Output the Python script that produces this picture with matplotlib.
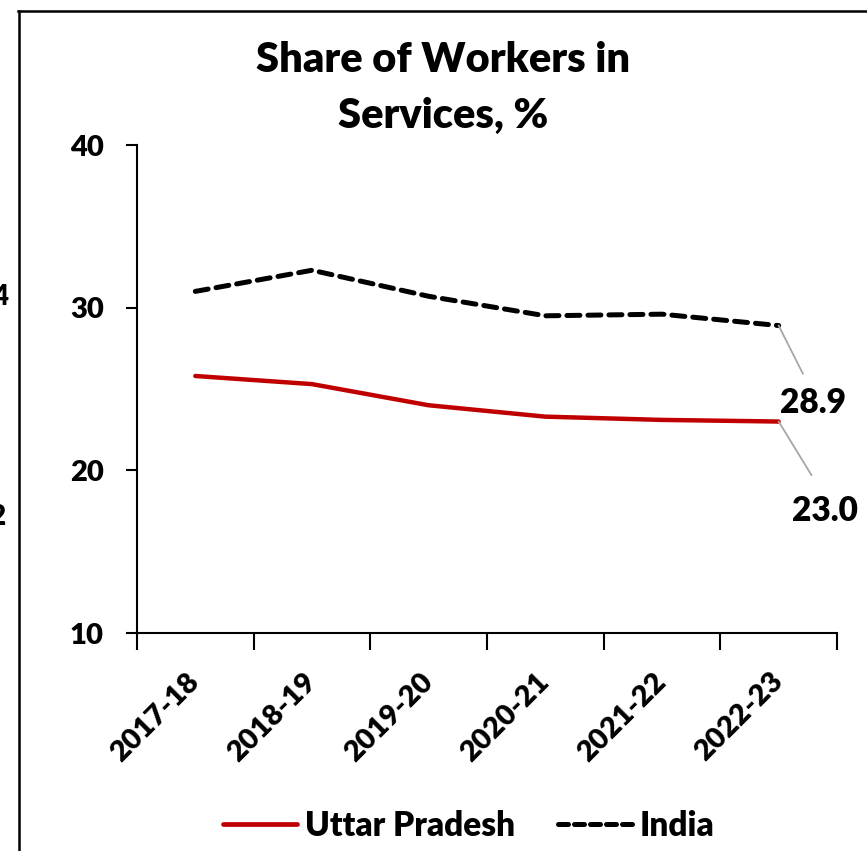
import matplotlib
matplotlib.use("Agg")
import matplotlib.pyplot as plt
from matplotlib.lines import Line2D

plt.rcParams['font.family'] = ['Lato', 'DejaVu Sans']
plt.rcParams['font.weight'] = 'heavy'
WT = 'heavy'

years = ["2017-18", "2018-19", "2019-20", "2020-21", "2021-22", "2022-23"]
up = [25.8, 25.3, 24.0, 23.3, 23.1, 23.0]
india = [31.0, 32.3, 30.7, 29.5, 29.6, 28.9]
title = "Share of Workers in\nServices, %"
yticks = [10, 20, 30, 40]

W, H = 867, 851
fig = plt.figure(figsize=(W / 100, H / 100), dpi=100)
ax = fig.add_axes([137 / W, 1 - 633 / H, (837 - 137) / W, (633 - 145) / H])

x = list(range(len(years)))
ax.plot(x, up, color='#C00000', lw=3.2, solid_capstyle='round', label='Uttar Pradesh')
ax.plot(x, india, color='black', lw=3.6, ls=(0, (2.6, 1.6)), dash_capstyle='round',
        label='India')

ax.set_xlim(-0.5, len(years) - 0.5)
ax.set_ylim(10, 40)
ax.set_yticks(yticks)
ax.set_yticklabels([str(v) for v in yticks], fontsize=21, fontweight=WT)
ax.tick_params(axis='y', length=8, width=1.5, pad=16, direction='out')

ax.set_xticks([i - 0.5 for i in range(len(years) + 1)])
ax.set_xticklabels([])
ax.tick_params(axis='x', which='major', length=12, width=1.5, direction='out')
ax.set_xticks(x, minor=True)
ax.set_xticklabels(years, minor=True, rotation=45, ha='right', va='center',
                   rotation_mode='anchor', fontsize=21, fontweight=WT)
ax.tick_params(axis='x', which='minor', length=0, pad=32)

for s in ['top', 'right']:
    ax.spines[s].set_visible(False)
for s in ['left', 'bottom']:
    ax.spines[s].set_linewidth(1.5)

fig.text(443 / W, 1 - 88 / H, title, ha='center', va='center', fontsize=30,
         fontweight=WT, linespacing=1.55)

# data labels for last points
ax.annotate(f"{india[-1]:.1f}", xy=(x[-1], india[-1]), xytext=(34, -77),
            textcoords='offset pixels', ha='center', va='center', fontsize=24,
            fontweight=WT,
            arrowprops=dict(arrowstyle='-', color='#A6A6A6', lw=1.3,
                            relpos=(0.45, 1.0), shrinkA=8, shrinkB=0))
ax.annotate(f"{up[-1]:.1f}", xy=(x[-1], up[-1]), xytext=(46, -89),
            textcoords='offset pixels', ha='center', va='center', fontsize=24,
            fontweight=WT,
            arrowprops=dict(arrowstyle='-', color='#A6A6A6', lw=1.3,
                            relpos=(0.48, 1.0), shrinkA=14, shrinkB=0))

handles = [Line2D([0], [0], color='#C00000', lw=3.4, solid_capstyle='round'),
           Line2D([0], [0], color='black', lw=3.6, ls=(0, (2.0, 1.2)), dash_capstyle='round')]
leg = fig.legend(handles, ['Uttar Pradesh', 'India'], loc='center',
                 bbox_to_anchor=(469 / W, 1 - 826 / H), ncol=2, frameon=False,
                 prop={'size': 24, 'weight': WT}, handlelength=2.2,
                 handletextpad=0.25, columnspacing=1.3)

# frame of surrounding panel
fig.add_artist(Line2D([18 / W, 1], [1 - 11 / H, 1 - 11 / H], color='black', lw=1.8,
                      transform=fig.transFigure))
fig.add_artist(Line2D([19 / W, 19 / W], [0, 1 - 11 / H], color='black', lw=1.8,
                      transform=fig.transFigure))
# fragments of neighbouring panel text
fig.text(8 / W, 1 - 297 / H, "4", ha='right', va='center', fontsize=20, fontweight=WT)
fig.text(5 / W, 1 - 517 / H, "2", ha='right', va='center', fontsize=20, fontweight=WT)

fig.savefig("out.png", dpi=100)
